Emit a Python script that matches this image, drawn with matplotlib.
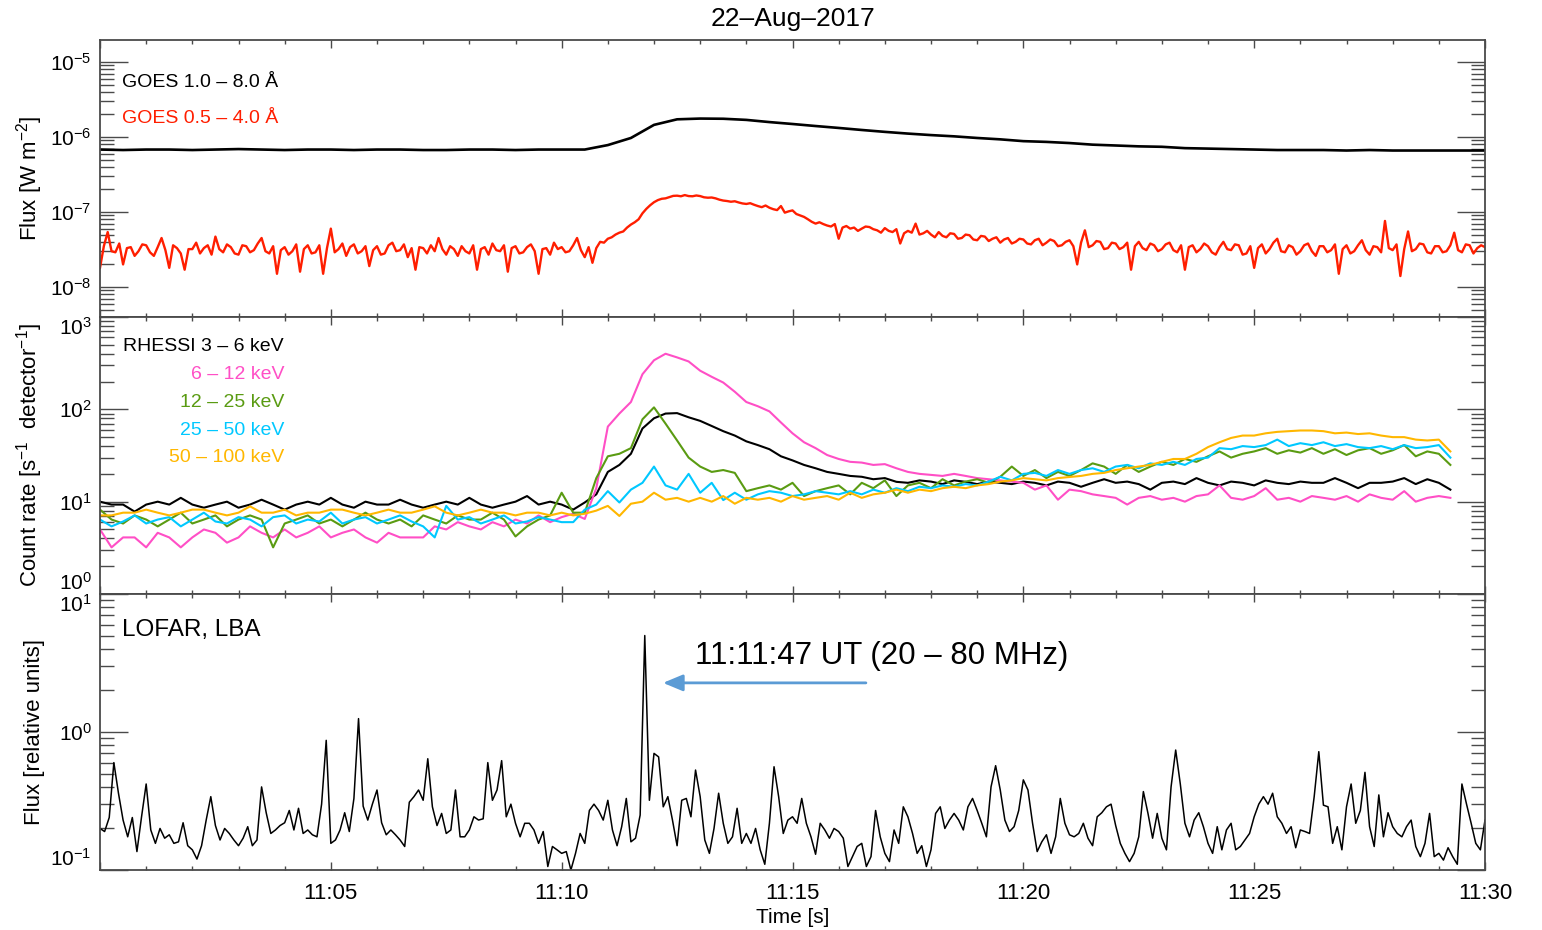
import numpy as np
import matplotlib
matplotlib.use('Agg')
import matplotlib.pyplot as plt
from matplotlib.ticker import LogLocator, NullFormatter, MultipleLocator, FixedLocator

plt.rcParams['font.family'] = ['Liberation Sans', 'DejaVu Sans']
plt.rcParams['mathtext.fontset'] = 'custom'
plt.rcParams['mathtext.rm'] = 'Liberation Sans'
plt.rcParams['mathtext.it'] = 'Liberation Sans:italic'
plt.rcParams['mathtext.bf'] = 'Liberation Sans:bold'

# time axis in minutes after 11:00 UT
xticks = [0, 5, 10, 15, 20, 25, 30]
xticklabels = ['', '11:05', '11:10', '11:15', '11:20', '11:25', '11:30']

# GOES 1.0-8.0 A, one value every 30 s, units 1e-7 W m^-2
goes_long = [6.8, 6.7, 6.8, 6.8, 6.7, 6.8, 6.9, 6.8, 6.7, 6.8, 6.8,
             6.7, 6.8, 6.8, 6.7, 6.7, 6.8, 6.8, 6.7, 6.8, 6.8, 6.8,
             7.8, 9.7, 14.5, 17.2, 17.6, 17.5, 16.9, 15.8, 14.9, 14.0,
             13.2, 12.4, 11.7, 11.1, 10.6, 10.2, 9.7, 9.3, 8.8, 8.6,
             8.3, 7.9, 7.7, 7.5, 7.4, 7.1, 7.0, 6.9, 6.8, 6.7,
             6.7, 6.7, 6.6, 6.7, 6.6, 6.6, 6.6, 6.6, 6.6]

# GOES 0.5-4.0 A, one value every 5 s (12 per minute), units 1e-8 W m^-2
goes_short = [1.8, 3.5, 5.4, 3.0, 2.9, 3.8, 2.0, 3.3, 3.4, 2.6, 3.0, 3.7,
              3.6, 2.9, 2.6, 3.4, 4.5, 3.1, 1.8, 3.6, 3.3, 2.8, 1.7, 3.2,
              3.2, 3.9, 2.8, 3.3, 3.6, 2.7, 4.7, 3.2, 2.9, 3.7, 3.4, 2.8,
              2.7, 3.6, 3.5, 2.9, 3.1, 3.8, 4.5, 3.0, 2.8, 3.5, 1.5, 3.1,
              3.4, 2.7, 3.0, 3.7, 1.6, 3.2, 3.6, 2.8, 2.9, 3.6, 1.5, 3.3,
              6.0, 2.9, 3.2, 3.8, 2.6, 3.4, 3.7, 2.8, 3.0, 3.5, 1.9, 3.1,
              3.5, 2.7, 2.8, 3.6, 3.9, 3.0, 3.1, 3.7, 2.5, 3.3, 1.7, 3.4,
              3.3, 2.8, 3.6, 3.0, 4.5, 3.2, 2.7, 3.5, 3.2, 2.6, 3.5, 3.0,
              2.8, 3.6, 1.7, 3.2, 3.4, 2.7, 3.8, 3.1, 3.0, 3.6, 1.6, 3.3,
              3.5, 2.8, 2.9, 3.4, 3.7, 3.0, 1.5, 3.2, 3.3, 2.7, 3.9, 3.2,
              3.4, 2.9, 3.0, 3.6, 4.5, 3.1, 2.5, 3.4, 2.1, 3.3, 4.0, 3.9,
              4.4, 4.6, 5.0, 5.3, 5.5, 6.2, 6.8, 7.3, 8.0, 9.6, 11.0, 12.3,
              13.5, 14.4, 15.0, 15.2, 15.8, 16.4, 16.5, 16.2, 16.8, 16.3, 16.2, 16.6,
              16.3, 15.7, 15.5, 15.6, 15.2, 14.6, 14.2, 14.0, 13.7, 13.9, 13.4, 13.0,
              12.8, 13.1, 12.5, 12.0, 11.6, 12.2, 11.4, 10.9, 10.6, 12.0, 9.8, 10.2,
              10.5, 9.4, 9.0, 8.6, 8.0, 7.4, 7.0, 7.3, 6.9, 6.6, 6.4, 6.9,
              4.4, 6.2, 6.5, 6.0, 6.2, 5.6, 6.0, 6.4, 6.3, 5.9, 5.7, 5.3,
              6.1, 5.6, 5.4, 5.9, 3.8, 5.2, 5.6, 5.3, 7.0, 5.0, 5.2, 5.6,
              5.0, 4.6, 5.4, 4.8, 4.6, 5.2, 5.1, 4.4, 4.5, 5.0, 4.9, 4.3,
              4.2, 4.8, 4.7, 4.1, 4.4, 4.6, 3.9, 4.3, 4.5, 3.8, 4.0, 4.4,
              4.3, 3.8, 3.7, 4.2, 4.4, 3.6, 3.9, 4.3, 4.1, 3.5, 3.6, 4.0,
              4.2, 3.5, 2.0, 3.9, 5.7, 3.4, 3.6, 4.1, 4.0, 3.2, 3.3, 3.9,
              3.8, 3.2, 3.4, 3.9, 1.7, 3.5, 4.0, 3.3, 3.1, 3.8, 3.6, 3.0,
              3.2, 3.7, 3.9, 3.1, 2.9, 3.6, 1.7, 3.4, 3.6, 2.9, 3.2, 3.8,
              3.5, 2.9, 2.7, 3.4, 4.0, 3.2, 3.1, 3.7, 3.6, 2.7, 2.8, 3.5,
              1.8, 3.3, 3.7, 2.8, 3.2, 3.9, 4.4, 3.0, 2.9, 3.6, 3.4, 2.7,
              3.0, 3.6, 3.8, 3.0, 2.6, 3.5, 3.5, 2.9, 3.1, 3.7, 1.5, 3.2,
              3.6, 2.8, 3.0, 3.6, 4.2, 3.1, 2.7, 3.5, 3.4, 2.9, 7.6, 3.3,
              3.1, 3.7, 1.4, 3.2, 5.5, 3.0, 3.2, 3.8, 3.7, 2.9, 2.8, 3.5,
              3.5, 2.9, 3.0, 3.6, 5.3, 3.1, 2.9, 3.7, 3.6, 2.8, 3.3, 3.6,
              3.4]

# RHESSI count rates, one value every 15 s (4 per minute)
rhessi_3_6 = [10, 9.3, 9.3, 7.8, 9.3, 10, 9.3, 11, 9.3, 8.6, 9.3, 10,
              8.6, 9.3, 10.5, 9.3, 8.2, 9.3, 10, 9.3, 11, 9.3, 8.6, 10,
              9.3, 9.3, 10.5, 9.3, 8.6, 9.3, 10, 9.3, 11, 9.3, 8.6, 9.3,
              10, 11.5, 9.3, 10, 9.3, 8.2, 9.8, 12,
              21, 25, 33, 62, 80, 90, 91, 82, 75, 66, 58, 52,
              45, 41, 37, 31, 28, 25, 23, 21, 20, 19, 18.6, 17.5,
              18, 16.4, 16, 17, 16.5, 15.5, 17, 16.4, 15.5, 16.5, 16, 15.5,
              16.5, 16, 15, 16.5, 16, 14.5, 16, 17.5, 16, 16.5, 15.5, 13.5,
              16, 16.5, 15.5, 18, 16, 15, 16.5, 16, 15, 17, 16, 15.5,
              16.5, 16, 16, 18, 16, 14, 16, 16, 16.5, 18, 15.5, 17.5,
              16, 13.5]
rhessi_6_12 = [5.0, 3.2, 4.1, 4.1, 3.2, 4.6, 4.1, 3.2, 4.1, 5.0, 4.6, 3.6,
               4.1, 5.4, 4.6, 4.1, 5.0, 4.1, 4.6, 5.4, 4.1, 4.6, 5.0, 4.1,
               3.6, 4.6, 4.1, 4.1, 4.1, 5.4, 5.0, 6.0, 5.4, 5.0, 6.0, 5.4,
               6.4, 5.8, 7.1, 6.0, 6.8, 7.4, 6.5, 14,
               65, 90, 120, 240, 340, 400, 365, 330, 262, 225, 195, 155,
               120, 108, 95, 72, 55, 44, 38, 32, 29, 27, 26.5, 25,
               25.5, 23, 21, 20, 19.5, 19, 20, 19, 18, 17.5, 17, 16.5,
               16, 13.5, 15, 10.5, 13.5, 13, 12, 11.5, 11, 9.3, 11, 11.5,
               10.5, 11, 10, 11.5, 12, 15, 11, 10.5, 11.5, 14, 10.5, 11,
               10, 11.5, 11, 10.5, 11.5, 10, 12, 11, 10.5, 13, 10, 11,
               11.5, 11]
rhessi_12_25 = [8.2, 6.4, 5.8, 7.1, 6.4, 5.4, 6.4, 7.6, 5.8, 6.4, 7.1, 5.4,
                6.4, 7.1, 6.4, 3.2, 5.8, 6.4, 7.1, 5.8, 6.4, 5.4, 6.4, 7.6,
                6.4, 5.8, 6.4, 5.4, 7.1, 6.4, 5.8, 7.1, 6.4, 6.4, 7.6, 6.4,
                4.2, 5.4, 6.4, 7.1, 12.5, 7.6, 7.6, 18,
                31, 33, 38, 78, 105, 70, 46, 30, 24, 21, 22, 20.5,
                13, 14, 15, 13.5, 16, 11.5, 13, 14, 15, 12, 16, 14,
                17, 11.5, 15, 16, 14, 17.5, 15, 16.5, 17.5, 16, 18.6, 24,
                19, 22, 18, 21, 19, 22, 26, 24, 20, 25, 21, 24,
                27, 25, 29, 27, 31, 35, 30, 33, 35, 38, 33, 36,
                34, 38, 33, 37, 32, 36, 38, 33, 36, 41, 31, 35,
                33, 25]
rhessi_25_50 = [6.4, 5.4, 6.1, 7.1, 5.8, 6.4, 6.8, 5.4, 6.4, 7.6, 6.1, 5.8,
                6.8, 6.4, 5.4, 6.8, 7.1, 5.8, 6.4, 6.1, 7.6, 5.8, 6.4, 6.8,
                5.8, 6.4, 7.1, 6.1, 5.4, 4.1, 9.0, 6.4, 6.8, 5.8, 6.4, 7.1,
                5.8, 6.1, 6.8, 6.4, 6.0, 6.0, 8.2, 9.3,
                13, 9.8, 13.5, 16, 24, 15, 13.5, 20, 12.5, 16, 10.4, 12.5,
                10.5, 12, 13, 12.5, 11.5, 12, 13, 12.5, 12, 13, 12, 13.5,
                12.5, 14, 13, 14.5, 14, 15, 14.5, 15.5, 15, 16.5, 18.6, 17,
                20, 20.5, 19, 22, 20, 22, 23, 21, 24, 25, 23, 26,
                25, 27, 25, 29, 30, 38, 37, 40, 39, 41, 47, 40,
                43, 41, 44, 40, 42, 39, 38, 40, 37, 41, 38, 39,
                41, 30]
rhessi_50_100 = [7.1, 7.1, 7.6, 7.6, 8.2, 7.6, 7.1, 7.6, 8.2, 8.2, 7.6, 7.1,
                 7.6, 8.9, 7.6, 7.6, 8.2, 7.1, 7.6, 7.6, 8.2, 8.2, 7.6, 7.1,
                 7.6, 8.2, 7.6, 7.6, 8.2, 8.9, 7.6, 7.1, 7.6, 8.2, 7.6, 7.6,
                 7.1, 7.6, 7.6, 7.1, 7.6, 7.1, 7.4, 8.0,
                 9.0, 7.0, 9.5, 10, 12.5, 10.5, 11, 10, 11, 10, 11.5, 9.5,
                 11, 10.5, 11, 10, 11.5, 10.5, 11, 11.5, 10.5, 12.5, 11, 12,
                 12.5, 13.5, 12.5, 13.5, 13, 14, 14.5, 14, 15, 15.5, 16.5, 17,
                 18, 17.5, 17, 18, 18.5, 19, 20, 20.5, 22, 23, 24, 25,
                 27, 29, 29, 33, 39, 44, 49, 52, 52, 55, 57, 58,
                 59, 59, 58, 55, 56, 54, 55, 52, 50, 50, 47, 46,
                 47, 35]
rhessi_labels = ['RHESSI 3 \u2013 6 keV', '6 \u2013 12 keV', '12 \u2013 25 keV',
                 '25 \u2013 50 keV', '50 \u2013 100 keV']
rhessi_colors = ['#000000', '#ff4fc6', '#5a9b12', '#00c8ff', '#ffb700']

# LOFAR LBA flux (relative units), one value every 6 s (10 per minute)
lofar = [0.20, 0.19, 0.24, 0.60, 0.36, 0.23, 0.174, 0.24, 0.136, 0.243,
         0.42, 0.195, 0.156, 0.20, 0.17, 0.18, 0.156, 0.16, 0.22, 0.15,
         0.14, 0.12, 0.15, 0.23, 0.34, 0.21, 0.165, 0.20, 0.184, 0.165,
         0.15, 0.17, 0.206, 0.15, 0.165, 0.40, 0.26, 0.184, 0.195, 0.21,
         0.22, 0.27, 0.195, 0.28, 0.184, 0.195, 0.18, 0.174, 0.30, 0.87,
         0.156, 0.165, 0.195, 0.26, 0.19, 0.33, 1.25, 0.29, 0.23, 0.30,
         0.38, 0.22, 0.18, 0.195, 0.18, 0.165, 0.148, 0.31, 0.34, 0.38,
         0.32, 0.64, 0.287, 0.21, 0.257, 0.184, 0.195, 0.38, 0.174, 0.174,
         0.195, 0.243, 0.23, 0.235, 0.60, 0.32, 0.38, 0.62, 0.243, 0.30,
         0.218, 0.174, 0.218, 0.218, 0.195, 0.156, 0.19, 0.106, 0.148, 0.14,
         0.132, 0.136, 0.10, 0.132, 0.184, 0.156, 0.27, 0.30, 0.27, 0.23,
         0.32, 0.195, 0.15, 0.206, 0.33, 0.16, 0.17, 0.25, 5.0, 0.32,
         0.70, 0.66, 0.287, 0.34, 0.23, 0.15, 0.32, 0.33, 0.243, 0.53,
         0.34, 0.165, 0.132, 0.20, 0.36, 0.218, 0.156, 0.174, 0.28, 0.156,
         0.184, 0.156, 0.20, 0.14, 0.11, 0.218, 0.56, 0.34, 0.184, 0.23,
         0.243, 0.218, 0.33, 0.218, 0.174, 0.13, 0.218, 0.195, 0.17, 0.20,
         0.19, 0.17, 0.106, 0.125, 0.148, 0.156, 0.106, 0.125, 0.27, 0.174,
         0.132, 0.115, 0.195, 0.156, 0.287, 0.243, 0.184, 0.132, 0.15, 0.106,
         0.14, 0.257, 0.287, 0.20, 0.23, 0.257, 0.23, 0.195, 0.287, 0.33,
         0.27, 0.218, 0.174, 0.40, 0.57, 0.38, 0.23, 0.19, 0.206, 0.27,
         0.45, 0.38, 0.218, 0.136, 0.16, 0.18, 0.132, 0.174, 0.33, 0.218,
         0.18, 0.174, 0.184, 0.218, 0.17, 0.15, 0.243, 0.26, 0.287, 0.30,
         0.21, 0.156, 0.132, 0.115, 0.132, 0.174, 0.37, 0.257, 0.17, 0.257,
         0.17, 0.14, 0.40, 0.74, 0.42, 0.218, 0.174, 0.23, 0.26, 0.206,
         0.156, 0.132, 0.206, 0.14, 0.195, 0.218, 0.14, 0.148, 0.165, 0.184,
         0.243, 0.30, 0.34, 0.30, 0.36, 0.243, 0.218, 0.184, 0.206, 0.145,
         0.195, 0.19, 0.184, 0.34, 0.72, 0.295, 0.287, 0.156, 0.206, 0.14,
         0.287, 0.42, 0.218, 0.27, 0.51, 0.206, 0.148, 0.35, 0.174, 0.26,
         0.206, 0.184, 0.174, 0.206, 0.23, 0.148, 0.125, 0.156, 0.257, 0.125,
         0.132, 0.118, 0.145, 0.125, 0.11, 0.42, 0.30, 0.218, 0.156, 0.14,
         0.23]

t_goes_long = np.arange(len(goes_long)) * 0.5
t_goes_short = np.arange(len(goes_short)) / 12.0
t_rhessi = np.arange(len(rhessi_3_6)) * 0.25
t_lofar = np.arange(len(lofar)) * 0.1

axcol = '#4a4a4a'


def style_axes(ax, show_xlabels=False):
    ax.set_xlim(0, 30)
    ax.set_yscale('log')
    ax.xaxis.set_major_locator(FixedLocator(xticks))
    ax.xaxis.set_minor_locator(MultipleLocator(1))
    ax.yaxis.set_major_locator(LogLocator(base=10))
    ax.yaxis.set_minor_locator(LogLocator(base=10, subs=np.arange(2, 10)))
    ax.yaxis.set_minor_formatter(NullFormatter())
    ax.tick_params(which='both', direction='in', top=True, right=True,
                   color=axcol, labelcolor='black', labelsize=15)
    ax.tick_params(axis='x', which='major', length=6, width=1)
    ax.tick_params(axis='x', which='minor', length=3, width=1)
    ax.tick_params(axis='y', which='major', length=20, width=1, pad=6)
    ax.tick_params(axis='y', which='minor', length=10, width=1)
    for s in ax.spines.values():
        s.set_color(axcol)
        s.set_linewidth(1.3)
    if show_xlabels:
        ax.set_xticklabels(xticklabels)
    else:
        ax.tick_params(axis='x', labelbottom=False)
    ax.yaxis.set_label_coords(-0.04, 0.5)


def pull_edge_labels(ax):
    # labels sitting on the panel edges are moved inside, as in IDL plots
    lo, hi = ax.get_ylim()
    for tick in ax.yaxis.get_major_ticks():
        loc = tick.get_loc()
        if np.isclose(np.log10(loc), np.log10(hi)):
            tick.label1.set_va('top')
        elif np.isclose(np.log10(loc), np.log10(lo)):
            tick.label1.set_va('bottom')


fig = plt.figure(figsize=(15.42, 9.3), dpi=100)
L, W = 100 / 1542, 1385 / 1542
ax1 = fig.add_axes([L, 613 / 930, W, 277 / 930])
ax2 = fig.add_axes([L, 336 / 930, W, 277 / 930])
ax3 = fig.add_axes([L, 60 / 930, W, 276 / 930])

# GOES panel
ax1.plot(t_goes_long, np.array(goes_long) * 1e-7, color='black', lw=1.9)
ax1.plot(t_goes_short, np.array(goes_short) * 1e-8, color='#ff1e00', lw=1.7)
style_axes(ax1)
ax1.set_ylim(10 ** -8.4, 10 ** -4.707)
ax1.set_ylabel('Flux [W m$^{-2}$]', fontsize=16)
ax1.text(0.0159, 0.848, 'GOES 1.0 \u2013 8.0 \u00c5', transform=ax1.transAxes,
         fontsize=14, color='black', va='center', ha='left')
ax1.text(0.0159, 0.718, 'GOES 0.5 \u2013 4.0 \u00c5', transform=ax1.transAxes,
         fontsize=14, color='#ff1e00', va='center', ha='left')

# RHESSI panel
rhessi = [rhessi_3_6, rhessi_6_12, rhessi_12_25, rhessi_25_50, rhessi_50_100]
for vals, col in zip(rhessi, rhessi_colors):
    ax2.plot(t_rhessi, vals, color=col, lw=1.5)
style_axes(ax2)
ax2.set_ylim(1, 1000)
ax2.set_ylabel('Count rate [s$^{-1}$  detector$^{-1}$]', fontsize=16)
for i, (lab, col) in enumerate(zip(rhessi_labels, rhessi_colors)):
    ax2.text(0.1329, 0.892 - i * 0.1, lab, transform=ax2.transAxes,
             fontsize=14, color=col, va='center', ha='right')

# LOFAR panel
ax3.plot(t_lofar, lofar, color='black', lw=1.1)
style_axes(ax3, show_xlabels=True)
ax3.set_ylim(0.1, 10)
ax3.set_ylabel('Flux [relative units]', fontsize=16)
ax3.set_xlabel('Time [s]', fontsize=15, labelpad=3)
ax3.tick_params(axis='x', labelsize=16, pad=9)
ax3.text(0.0159, 0.87, 'LOFAR, LBA', transform=ax3.transAxes,
         fontsize=17.5, va='center', ha='left')
ax3.text(0.4296, 0.775, '11:11:47 UT (20 \u2013 80 MHz)', transform=ax3.transAxes,
         fontsize=22.5, va='center', ha='left')
ax3.annotate('', xy=(0.4065, 0.678), xytext=(0.553, 0.678),
             xycoords='axes fraction', textcoords='axes fraction',
             arrowprops=dict(arrowstyle='-|>,head_length=0.6,head_width=0.25',
                             color='#5b9bd5', lw=2, mutation_scale=20,
                             shrinkA=0, shrinkB=0))

fig.text(793 / 1542, 911 / 930, '22\u2013Aug\u20132017', fontsize=19,
         ha='center', va='center')

fig.canvas.draw()
for ax in (ax1, ax2, ax3):
    pull_edge_labels(ax)

fig.savefig('out.png', dpi=100)
